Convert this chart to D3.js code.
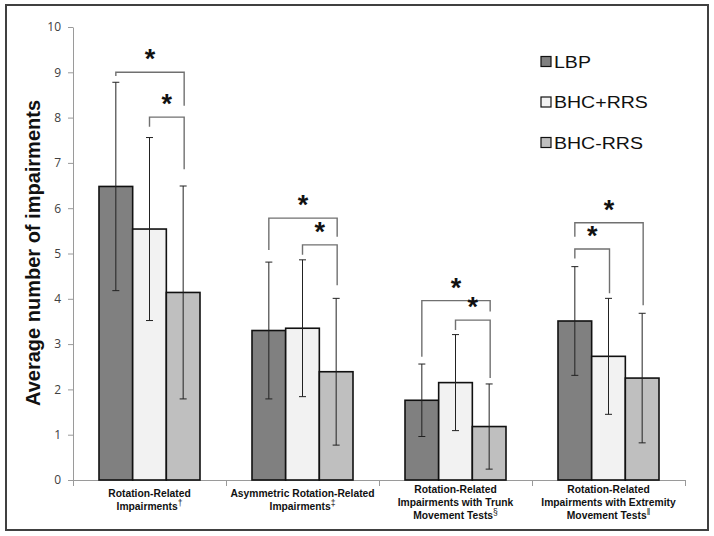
<!DOCTYPE html>
<html>
<head>
<meta charset="utf-8">
<script src="https://cdn.jsdelivr.net/npm/d3@7"></script>
<style>
body { margin: 0; background: #fff; }
svg { display: block; }
</style>
</head>
<body>
<svg id="chart" width="714" height="536"></svg>
<script>
'use strict';

// category labels (lines) and their footnote marks
const categories = [
    ["Rotation-Related", "Impairments"],
    ["Asymmetric Rotation-Related", "Impairments"],
    ["Rotation-Related", "Impairments with Trunk", "Movement Tests"],
    ["Rotation-Related", "Impairments with Extremity", "Movement Tests"]
];
const footnotes = ["\u2020", "\u2021", "\u00a7", "\u2016"];

const series = ["LBP", "BHC+RRS", "BHC-RRS"];
const lbpMean = [6.48, 3.30, 1.76, 3.51];
const lbpSD = [2.30, 1.51, 0.80, 1.20];
const bhcPlusMean = [5.54, 3.35, 2.15, 2.73];
const bhcPlusSD = [2.02, 1.51, 1.06, 1.28];
const bhcMinusMean = [4.14, 2.39, 1.18, 2.25];
const bhcMinusSD = [2.35, 1.62, 0.94, 1.43];

const yTicks = [0, 1, 2, 3, 4, 5, 6, 7, 8, 9, 10];

// significance brackets: category, from series, to series, level, left leg end, right leg end
const brackets = [
    [0, 0, 2, 9.00, 8.92, 8.26],
    [0, 1, 2, 8.01, 7.80, 6.86],
    [1, 0, 2, 5.78, 5.08, 5.37],
    [1, 1, 2, 5.19, 4.97, 4.30],
    [2, 0, 2, 3.96, 2.72, 3.72],
    [2, 1, 2, 3.53, 3.31, 2.25],
    [3, 0, 2, 5.68, 5.37, 3.86],
    [3, 0, 1, 5.10, 4.89, 4.12]
];

const means = [lbpMean, bhcPlusMean, bhcMinusMean];
const sds = [lbpSD, bhcPlusSD, bhcMinusSD];
const colors = ["#808080", "#f2f2f2", "#bfbfbf"];

const svg = d3.select("#chart");
const plotLeft = 73, plotRight = 685, plotTop = 27, plotBottom = 480;

// frame
svg.append("rect")
    .attr("x", 6).attr("y", 5).attr("width", 702).attr("height", 525)
    .attr("fill", "none").attr("stroke", "#404040").attr("stroke-width", 2);

const x0 = d3.scaleBand().domain(d3.range(categories.length)).range([plotLeft, plotRight]);
const x1 = d3.scaleBand().domain(d3.range(series.length)).range([26, x0.bandwidth() - 26]);
const y = d3.scaleLinear().domain([0, 10]).range([plotBottom, plotTop]);

// y axis
const yAxis = svg.append("g")
    .attr("transform", `translate(${plotLeft},0)`)
    .call(d3.axisLeft(y).tickValues(yTicks).tickSize(5).tickPadding(7).tickSizeOuter(0));
yAxis.select(".domain").attr("stroke", "#9a9a9a");
yAxis.selectAll(".tick line").attr("stroke", "#9a9a9a");
yAxis.selectAll(".tick text")
    .attr("font-family", "'Open Sans', 'Liberation Sans', sans-serif")
    .attr("font-size", 12).attr("fill", "#404040");

// x axis with ticks on category boundaries
const xb = d3.scaleLinear().domain([0, categories.length]).range([plotLeft, plotRight]);
const xAxis = svg.append("g")
    .attr("transform", `translate(0,${plotBottom})`)
    .call(d3.axisBottom(xb).tickValues(d3.range(categories.length + 1)).tickSize(6).tickFormat("").tickSizeOuter(0));
xAxis.select(".domain").attr("stroke", "#9a9a9a");
xAxis.selectAll(".tick line").attr("stroke", "#9a9a9a");

// bars
const bars = [];
categories.forEach((c, i) => series.forEach((s, j) => {
    bars.push({cat: i, ser: j, mean: means[j][i], sd: sds[j][i]});
}));
const cx = d => x0(d.cat) + x1(d.ser) + x1.bandwidth() / 2;

svg.append("g").selectAll("rect").data(bars).enter().append("rect")
    .attr("x", d => x0(d.cat) + x1(d.ser))
    .attr("y", d => y(d.mean))
    .attr("width", x1.bandwidth())
    .attr("height", d => y(0) - y(d.mean))
    .attr("fill", d => colors[d.ser])
    .attr("stroke", "#111").attr("stroke-width", 1.6);

// error bars
const eb = svg.append("g").attr("stroke", "#222").attr("stroke-width", 1);
eb.selectAll(".whisker").data(bars).enter().append("line")
    .attr("x1", cx).attr("x2", cx)
    .attr("y1", d => y(d.mean + d.sd)).attr("y2", d => y(d.mean - d.sd));
eb.selectAll(".capTop").data(bars).enter().append("line")
    .attr("x1", d => cx(d) - 3.5).attr("x2", d => cx(d) + 3.5)
    .attr("y1", d => y(d.mean + d.sd)).attr("y2", d => y(d.mean + d.sd));
eb.selectAll(".capBot").data(bars).enter().append("line")
    .attr("x1", d => cx(d) - 3.5).attr("x2", d => cx(d) + 3.5)
    .attr("y1", d => y(d.mean - d.sd)).attr("y2", d => y(d.mean - d.sd));

// significance brackets
const bg = svg.append("g");
brackets.forEach(b => {
    const [cat, from, to, level, l1, l2] = b;
    const xa = cx({cat: cat, ser: from}), xc = cx({cat: cat, ser: to}) + 1;
    bg.append("path")
        .attr("d", `M${xa},${y(l1)}V${y(level)}H${xc}V${y(l2)}`)
        .attr("fill", "none").attr("stroke", "#707070").attr("stroke-width", 1.4);
    bg.append("text")
        .attr("x", (xa + xc) / 2).attr("y", y(level) - 4)
        .attr("text-anchor", "middle")
        .attr("font-family", "'Liberation Sans', Arial, sans-serif")
        .attr("font-weight", "bold").attr("font-size", 27)
        .attr("fill", "#111")
        .text("*");
});

// category labels
categories.forEach((lines, i) => {
    const t = svg.append("text")
        .attr("text-anchor", "middle")
        .attr("font-family", "'Liberation Sans', Arial, sans-serif")
        .attr("font-weight", "bold").attr("font-size", 10.3)
        .attr("fill", "#111");
    const y0 = lines.length == 2 ? 497 : 493;
    lines.forEach((ln, k) => {
        const ts = t.append("tspan")
            .attr("x", x0(i) + x0.bandwidth() / 2)
            .attr("y", y0 + k * 13)
            .text(ln);
        if (k == lines.length - 1) {
            ts.append("tspan").attr("font-size", 8.5).attr("dy", -4).attr("font-weight", "normal").text(footnotes[i]);
        }
    });
});

// y axis title
svg.append("text")
    .attr("transform", "translate(40,253) rotate(-90)")
    .attr("text-anchor", "middle")
    .attr("font-family", "'Liberation Sans', Arial, sans-serif")
    .attr("font-weight", "bold").attr("font-size", 20)
    .attr("fill", "#111")
    .text("Average number of impairments");

// legend
const lg = svg.append("g");
series.forEach((s, j) => {
    const cy = 61.5 + j * 40.5;
    lg.append("rect")
        .attr("x", 541).attr("y", cy - 5).attr("width", 10).attr("height", 10)
        .attr("fill", colors[j]).attr("stroke", "#111").attr("stroke-width", 1.2);
    lg.append("text")
        .attr("transform", `translate(554,${cy + 6}) scale(1.15,1)`)
        .attr("font-family", "'Liberation Sans', Arial, sans-serif")
        .attr("font-size", 17).attr("fill", "#111")
        .text(s);
});
</script>
</body>
</html>
